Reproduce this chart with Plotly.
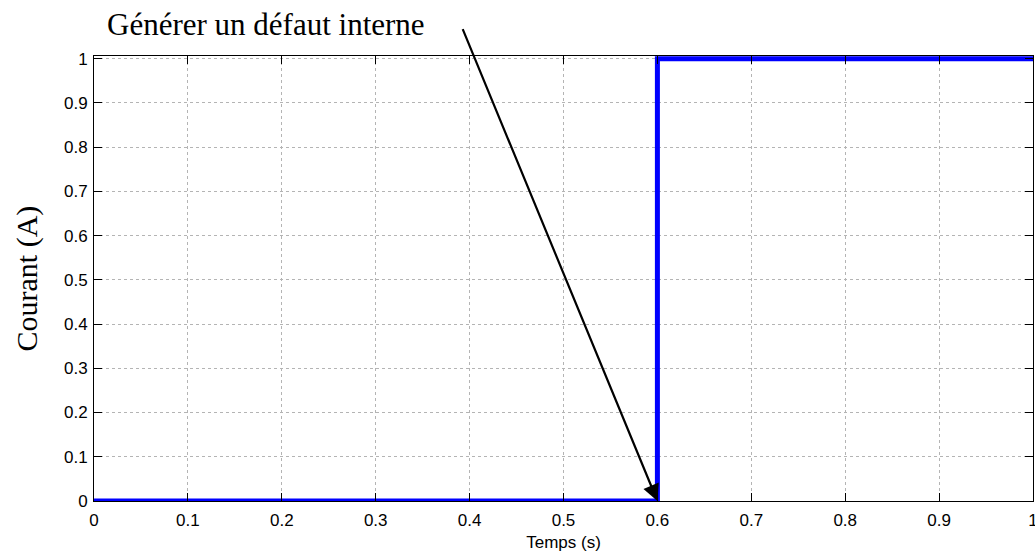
import plotly.graph_objects as go

# Step signal: current jumps from 0 to 1 A at t = 0.6 s
temps = [0.0, 0.6, 0.6, 1.0]
courant = [0.0, 0.0, 1.0, 1.0]

x_ticks = [0, 0.1, 0.2, 0.3, 0.4, 0.5, 0.6, 0.7, 0.8, 0.9, 1]
y_ticks = [0, 0.1, 0.2, 0.3, 0.4, 0.5, 0.6, 0.7, 0.8, 0.9, 1]

fault_time = 0.6
fault_label = "Générer un défaut interne"

fig = go.Figure()
fig.add_trace(go.Scatter(
    x=temps, y=courant, mode="lines",
    line=dict(color="#0000FF", width=5),
    showlegend=False,
))

axis_common = dict(
    showline=True, linecolor="black", linewidth=1, mirror="ticks",
    ticks="inside", ticklen=8, tickcolor="black", tickwidth=1,
    showgrid=True, gridcolor="#b4b4b4", gridwidth=1, griddash="dot",
    zeroline=False, ticklabeloverflow="allow", automargin=False,
    tickfont=dict(family="Liberation Sans", size=17, color="black"),
)

fig.update_xaxes(range=[0, 1], tickvals=x_ticks,
                 ticktext=[f"{v:g}" for v in x_ticks],
                 ticklabelstandoff=4,
                 title=dict(text="Temps (s)", standoff=6,
                            font=dict(family="Liberation Sans", size=17, color="black")),
                 **axis_common)
fig.update_yaxes(range=[0, 1.006], tickvals=y_ticks,
                 ticktext=[f"{v:g}" for v in y_ticks],
                 ticklabelstandoff=2,
                 **axis_common)

# Vertical axis label
fig.add_annotation(
    xref="paper", yref="paper", x=-68 / 939, y=0.5,
    text="Courant (A)", textangle=-90, showarrow=False,
    xanchor="center", yanchor="middle",
    font=dict(family="Liberation Serif", size=30, color="black"),
)

# Annotation text and arrow pointing at the fault instant
fig.add_annotation(
    xref="paper", yref="paper", x=11 / 939, y=1 + 31 / 445,
    text=fault_label, showarrow=False,
    xanchor="left", yanchor="middle",
    font=dict(family="Liberation Serif", size=31, color="black"),
)
fig.add_annotation(
    x=fault_time, y=0, xref="x", yref="y",
    ax=0.392, ay=1.07, axref="x", ayref="y",
    text="", showarrow=True,
    arrowhead=2, arrowsize=1.5, arrowwidth=2.2, arrowcolor="black",
    standoff=0,
)

fig.update_layout(
    width=1035, height=554,
    margin=dict(l=94, r=2, t=56, b=53),
    plot_bgcolor="white", paper_bgcolor="white",
)

fig.write_html("out.html")
